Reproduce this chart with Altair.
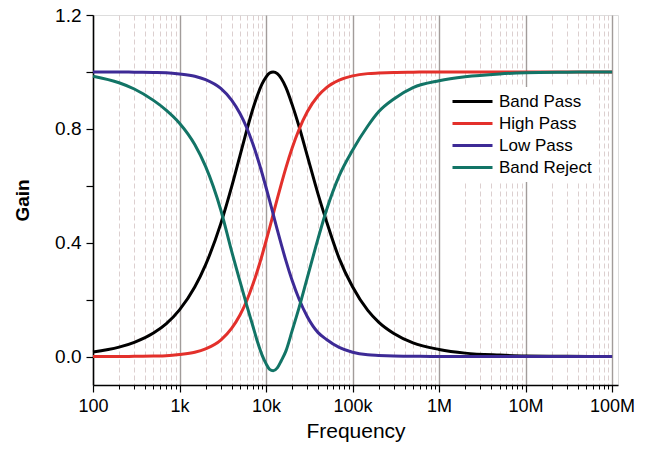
import altair as alt
import pandas as pd

FREQ = [100, 200, 300, 500, 700, 1000, 1500, 2000, 3000, 4000, 5000, 6000, 7000, 8000,
        9000, 10000, 11000, 12100, 13500, 15000, 17000, 20000, 24000, 30000, 40000,
        50000, 70000, 100000, 150000, 200000, 300000, 500000, 1000000, 2000000,
        5000000, 10000000, 30000000, 100000000]

BAND_PASS = [0.016, 0.033, 0.050, 0.083, 0.115, 0.164, 0.244, 0.322, 0.467, 0.596, 0.706,
             0.796, 0.867, 0.920, 0.958, 0.982, 0.996, 1.000, 0.994, 0.977, 0.945, 0.886,
             0.810, 0.705, 0.570, 0.475, 0.345, 0.245, 0.162, 0.121, 0.081, 0.048, 0.025,
             0.012, 0.005, 0.002, 0.001, 0.000]
HIGH_PASS = [0.000, 0.000, 0.001, 0.002, 0.003, 0.007, 0.015, 0.027, 0.058, 0.099, 0.146,
             0.197, 0.251, 0.304, 0.356, 0.406, 0.452, 0.500, 0.555, 0.606, 0.664, 0.732,
             0.797, 0.860, 0.916, 0.945, 0.971, 0.986, 0.994, 0.996, 0.998, 0.999, 1.000,
             1.000, 1.000, 1.000, 1.000, 1.000]
LOW_PASS = [1.000, 1.000, 0.999, 0.998, 0.997, 0.993, 0.985, 0.973, 0.942, 0.901, 0.854,
            0.803, 0.749, 0.696, 0.644, 0.594, 0.548, 0.500, 0.445, 0.394, 0.336, 0.268,
            0.203, 0.140, 0.084, 0.060, 0.032, 0.015, 0.006, 0.004, 0.002, 0.001, 0.000,
            0.000, 0.000, 0.000, 0.000, 0.000]
BAND_REJECT = [0.985, 0.962, 0.940, 0.900, 0.866, 0.820, 0.745, 0.668, 0.515, 0.370, 0.264,
               0.179, 0.110, 0.050, 0.005, -0.025, -0.045, -0.050, -0.040, -0.015, 0.020,
               0.090, 0.170, 0.277, 0.415, 0.515, 0.635, 0.725, 0.810, 0.860, 0.905, 0.945,
               0.969, 0.983, 0.993, 0.997, 0.999, 1.000]

SERIES = ["Band Pass", "High Pass", "Low Pass", "Band Reject"]
COLORS = ["#000000", "#e3302b", "#3d2a96", "#127466"]

rows = []
for name, vals in zip(SERIES, [BAND_PASS, HIGH_PASS, LOW_PASS, BAND_REJECT]):
    for f, g in zip(FREQ, vals):
        rows.append({"freq": f, "gain": g, "series": name})
df = pd.DataFrame(rows)

MAJOR = [1e2, 1e3, 1e4, 1e5, 1e6, 1e7, 1e8]
MINOR = [m * d for d in [1e2, 1e3, 1e4, 1e5, 1e6, 1e7] for m in range(2, 10)]

FONT = "Liberation Sans"
xdomain = [100, 1.17e8]

yscale = alt.Scale(domain=[-0.1, 1.2], nice=False, zero=False)
yaxis = alt.Axis(values=[0, 0.2, 0.4, 0.6, 0.8, 1.0, 1.2],
                 labelExpr="abs((datum.value*10) % 4) < 0.01 || abs((datum.value*10) % 4 - 4) < 0.01 ? format(datum.value, '.1f') : ''",
                 grid=False, tickSize=7, tickColor="black", tickWidth=1.2,
                 domainColor="black", domainWidth=1.5,
                 labelFont=FONT, labelFontSize=19, labelColor="black", labelPadding=5,
                 title="Gain", titleFont=FONT, titleFontSize=19, titleFontWeight="bold",
                 titleColor="black", titlePadding=22)

minor_layer = alt.Chart(df).mark_line(opacity=0).encode(
    x=alt.X("freq:Q", scale=alt.Scale(type="log", domain=xdomain, nice=False),
            axis=alt.Axis(values=MINOR, labels=False, title=None, domain=False,
                          tickSize=4, tickColor="black", tickWidth=1,
                          grid=True, gridColor="#dccfcf", gridDash=[5, 3], gridWidth=1,
                          orient="bottom")),
    y=alt.Y("gain:Q", scale=yscale, axis=yaxis),
    detail="series:N",
)

main_layer = alt.Chart(df).mark_line(strokeWidth=3, interpolate="monotone").encode(
    x=alt.X("freq:Q", scale=alt.Scale(type="log", domain=xdomain, nice=False),
            axis=alt.Axis(values=MAJOR,
                          labelExpr="datum.value >= 1e6 ? format(datum.value/1e6, 'd') + 'M' : datum.value >= 1e3 ? format(datum.value/1e3, 'd') + 'k' : format(datum.value, 'd')",
                          labelFlush=False,
                          title="Frequency", titleFont=FONT, titleFontSize=21,
                          titleFontWeight="normal", titleColor="black", titlePadding=5,
                          labelFont=FONT, labelFontSize=18, labelColor="black", labelPadding=5,
                          tickSize=7, tickColor="black", tickWidth=1.2,
                          domainColor="black", domainWidth=1.5,
                          grid=True, gridColor="#a29c9a", gridWidth=1.4,
                          orient="bottom")),
    y=alt.Y("gain:Q", scale=yscale, axis=yaxis),
    color=alt.Color("series:N",
                    scale=alt.Scale(domain=SERIES, range=COLORS),
                    legend=alt.Legend(title=None, orient="none", legendX=365, legendY=72,
                                      fillColor="white", padding=6,
                                      symbolType="M-4,0H4", symbolSize=100,
                                      symbolStrokeWidth=3, symbolFillColor="transparent",
                                      labelFont=FONT,
                                      labelFontSize=17, labelColor="black",
                                      labelOffset=18, rowPadding=4)),
    order=alt.Order("freq:Q"),
)

chart = alt.layer(minor_layer, main_layer).resolve_scale(x="independent").properties(
    width=525, height=370,
    padding={"left": 93, "top": 15, "right": 32, "bottom": 65},
    autosize="none",
).configure_view(stroke=None).configure(background="white")

chart.save("out.html", embed_options={"renderer": "svg", "actions": False})
